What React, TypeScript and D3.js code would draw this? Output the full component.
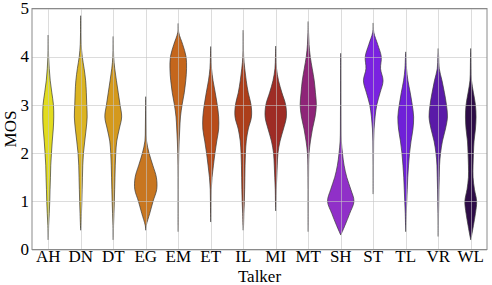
import React from "react";
import * as d3 from "d3";

const talkers = ["AH", "DN", "DT", "EG", "EM", "ET", "IL", "MI", "MT", "SH", "ST", "TL", "VR", "WL"];
const colors = ["#e2dc1e", "#dcb421", "#d4991d", "#c87620", "#c4661c", "#b84c1a", "#ac3e1a", "#9e2c25", "#8e2478", "#9030c8", "#7a22e0", "#6f20d8", "#5a1aa8", "#2e0c48"];
const yTicks = [0, 1, 2, 3, 4, 5];
const mosGrid = [0, 0.25, 0.5, 0.75, 1, 1.25, 1.5, 1.75, 2, 2.25, 2.5, 2.75, 3, 3.25, 3.5, 3.75, 4, 4.25, 4.5, 4.75, 5];
const mosMin = [0.2, 0.4, 0.2, 0.4, 0.37, 0.57, 0.4, 0.8, 0.37, 0.3, 1.15, 0.37, 0.27, 0.2];
const mosMax = [4.45, 4.85, 4.42, 3.17, 4.69, 4.21, 4.55, 4.22, 4.73, 4.07, 4.7, 4.1, 4.17, 4.17];
// relative density (half-width) at each mosGrid value
const densAH = [0, 0.1, 0.4, 1, 1.5, 1.8, 2.2, 2.5, 3.2, 4, 5, 5.5, 5.2, 3.6, 2, 1, 0.35, 0.15, 0, 0, 0];
const densDN = [0, 0, 0.3, 0.7, 1.1, 1.4, 1.7, 2, 2.7, 4, 5.4, 6.4, 6, 5.6, 4.9, 3.4, 1.5, 0.5, 0.2, 0.1, 0];
const densDT = [0, 0.05, 0.3, 0.7, 1.1, 1.4, 1.7, 2, 2.5, 3.5, 6, 8.4, 6.8, 5, 3.2, 1.5, 0.4, 0.2, 0, 0, 0];
const densEG = [0, 0, 0.5, 4, 7.3, 11, 10.6, 7, 3.3, 0.8, 0.4, 0.25, 0.1, 0, 0, 0, 0, 0, 0, 0, 0];
const densEM = [0, 0, 0.2, 0.2, 0.2, 0.2, 0.25, 0.3, 0.5, 0.9, 1.5, 2.2, 3.8, 6, 7.5, 8.3, 7.8, 4.5, 0.5, 0, 0];
const densET = [0, 0, 0, 0.2, 0.3, 0.5, 1.3, 2.7, 4.2, 6, 7.9, 7.9, 6.5, 4.5, 2.3, 0.8, 0.3, 0, 0, 0, 0];
const densIL = [0, 0, 0.3, 0.6, 1.1, 1.4, 1.6, 1.8, 2.2, 3, 5, 8.2, 7.8, 5, 3, 1.5, 0.4, 0.2, 0.05, 0, 0];
const densMI = [0, 0, 0, 0, 0.3, 0.5, 1, 1.5, 2.2, 4.3, 7.7, 10.6, 9.9, 6.2, 2.8, 0.8, 0.3, 0, 0, 0, 0];
const densMT = [0, 0, 0.1, 0.2, 0.25, 0.25, 0.3, 0.4, 0.8, 2.2, 4.2, 6.8, 8.1, 7.2, 6, 4, 2, 0.8, 0.3, 0, 0];
const densSH = [0, 0, 4.2, 9, 13.2, 10, 6, 3.3, 1.7, 0.6, 0.35, 0.3, 0.25, 0.2, 0.2, 0.15, 0.1, 0, 0, 0, 0];
const densST = [0, 0, 0, 0, 0, 0.1, 0.2, 0.25, 0.3, 0.4, 0.8, 1.8, 3.5, 6.8, 9.8, 7.3, 8, 4.5, 0.6, 0, 0];
const densTL = [0, 0, 0.2, 0.5, 1, 1.5, 2, 2.8, 3.8, 5.3, 7.2, 7.9, 6.5, 4.5, 2.2, 0.8, 0.3, 0, 0, 0, 0];
const densVR = [0, 0, 0.2, 0.3, 0.5, 0.7, 1, 1.3, 2.3, 4.2, 7.2, 9.2, 8.2, 6.2, 3.8, 1, 0.4, 0, 0, 0, 0];
const densWL = [0, 0.5, 2.7, 4.7, 5.9, 3.7, 2.3, 2.3, 2.7, 3.3, 4.7, 5.3, 4.7, 2.7, 0.8, 0.4, 0.25, 0, 0, 0, 0];
const densities = [densAH, densDN, densDT, densEG, densEM, densET, densIL, densMI, densMT, densSH, densST, densTL, densVR, densWL];

const W = 492;
const H = 285;
const margin = { left: 32, right: 5, top: 8.5, bottom: 35.5 };
const FONT = '"Liberation Serif", Tinos, Times, "Times New Roman", "Nimbus Roman", "Nimbus Roman No9 L", FreeSerif, "Noto Serif", "DejaVu Serif", serif';

export default function App() {
  const x = d3.scaleBand().domain(talkers).range([margin.left, W - margin.right]).paddingInner(0).paddingOuter(0);
  const y = d3.scaleLinear().domain([0, 5]).range([H - margin.bottom, margin.top]);
  const w = d3.scaleLinear().domain([0, 16]).range([0, 16]);
  const bw = x.bandwidth();

  const violins = talkers.map((t, i) => {
    const pts: [number, number][] = [[mosMin[i], 0]];
    mosGrid.forEach((m, j) => {
      if (m > mosMin[i] && m < mosMax[i]) pts.push([m, Math.max(densities[i][j], 0.15)]);
    });
    pts.push([mosMax[i], 0]);
    const cx = (x(t) as number) + bw / 2;
    const area = d3
      .area<[number, number]>()
      .y((d) => y(d[0]))
      .x0((d) => cx - w(d[1]))
      .x1((d) => cx + w(d[1]))
      .curve(d3.curveCatmullRom.alpha(0.5));
    return { t, cx, path: area(pts) as string, color: colors[i] };
  });

  const x0 = margin.left;
  const x1 = W - margin.right;
  const y0 = H - margin.bottom;
  const y1 = margin.top;

  return (
    <svg width={W} height={H} style={{ position: "absolute", left: 0, top: 0, background: "#fff" }}>
      <rect x={x0} y={y1} width={x1 - x0} height={y0 - y1} fill="#fff" />
      {violins.map((v) => (
        <path key={v.t} d={v.path} fill={v.color} stroke="#3a3a3a" strokeWidth={0.7} strokeLinejoin="round" />
      ))}
      <g stroke="#c4c4c4" strokeOpacity={0.6} strokeWidth={1}>
        {yTicks.map((t) => (
          <line key={"h" + t} x1={x0} x2={x1} y1={Math.round(y(t)) + 0.5} y2={Math.round(y(t)) + 0.5} />
        ))}
        {violins.map((v) => (
          <line key={"v" + v.t} x1={Math.round(v.cx) + 0.5} x2={Math.round(v.cx) + 0.5} y1={y1} y2={y0} />
        ))}
      </g>
      <rect x={x0} y={y1} width={x1 - x0} height={y0 - y1} fill="none" stroke="#8a8a8a" strokeWidth={1} />
      <g style={{ fontFamily: FONT, fontSize: "17px" }} fill="#000">
        {yTicks.map((t) => (
          <text key={"yt" + t} x={x0 - 3} y={y(t)} dy="0.34em" textAnchor="end">
            {t}
          </text>
        ))}
        {violins.map((v) => (
          <text key={"xt" + v.t} x={v.cx} y={y0 + 12.5} textAnchor="middle">
            {v.t}
          </text>
        ))}
        <text x={(x0 + x1) / 2} y={H - 3.5} textAnchor="middle">
          Talker
        </text>
        <text transform={`translate(15.5, ${(y0 + y1) / 2}) rotate(-90)`} textAnchor="middle">
          MOS
        </text>
      </g>
    </svg>
  );
}
